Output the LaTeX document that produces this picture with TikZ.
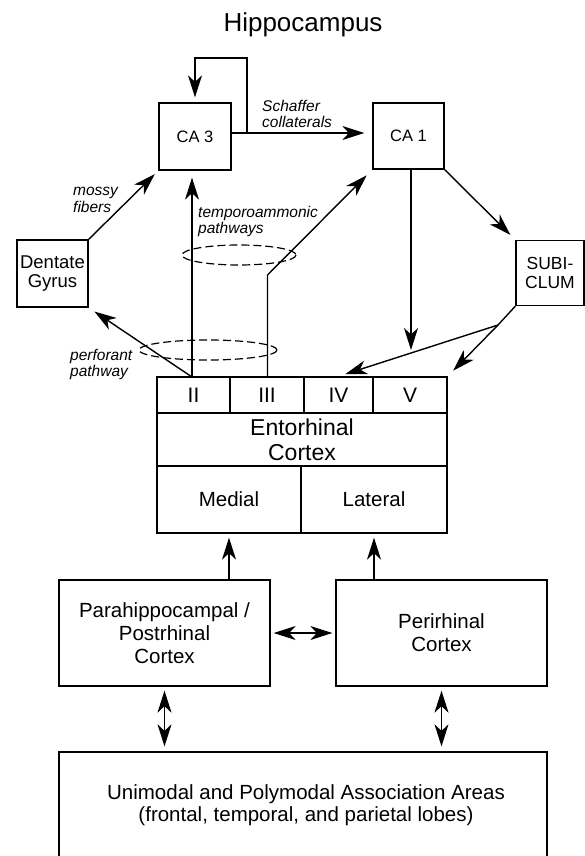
\documentclass[tikz,border=0pt]{standalone}
\usepackage{fontspec}
\setmainfont{Liberation Sans}
\usetikzlibrary{arrows.meta,calc}
\begin{document}
\begin{tikzpicture}[x=1pt,y=-1pt,
  box/.style={draw, line width=1.3pt, inner sep=0pt, align=center},
  tip/.tip={Stealth[length=22pt,width=14pt,inset=6.5pt]},
  arr/.style={line width=1.4pt, -tip},
  dbl/.style={line width=1.4pt, tip-tip},
  lab/.style={font=\fontsize{15.5}{16}\selectfont\itshape, anchor=base west, inner sep=0pt},
  dsh/.style={dash pattern=on 8pt off 4pt, line width=1.2pt},
  bf/.style={font=\fontsize{16.5}{19}\selectfont},
  mf/.style={font=\fontsize{20.5}{23}\selectfont}
]
\clip (0,0) rectangle (585,856);
\fill[white] (0,0) rectangle (585,856);

% title
\node[anchor=base, inner sep=0pt, font=\fontsize{26}{30}\selectfont] (title) at (303,32) {Hippocampus};

% hippocampal boxes
\node[box, bf, minimum width=72, minimum height=67] (ca3) at (195,136.5) {CA 3};
\node[box, bf, minimum width=71, minimum height=66] (ca1) at (408.5,136) {CA 1};
\node[box, font=\fontsize{18.5}{19.5}\selectfont, minimum width=71, minimum height=67] (dg) at (52.5,273.5) {Dentate\\Gyrus};
\node[box, font=\fontsize{17.5}{18.5}\selectfont, minimum width=68, minimum height=65] (sub) at (550,273) {SUBI-\\CLUM};

% entorhinal cortex
\node[box, font=\fontsize{21}{23}\selectfont, minimum width=73, minimum height=36] (l2) at (193.5,395) {II};
\node[box, font=\fontsize{21}{23}\selectfont, minimum width=74, minimum height=36] (l3) at (267,395) {III};
\node[box, font=\fontsize{21}{23}\selectfont, minimum width=69, minimum height=36] (l4) at (338.5,395) {IV};
\node[box, font=\fontsize{21}{23}\selectfont, minimum width=74, minimum height=36] (l5) at (410,395) {V};
\node[box, font=\fontsize{23}{25}\selectfont, minimum width=290, minimum height=53] (ecn) at (302,439.5) {Entorhinal\\Cortex};
\node[box, mf, minimum width=144, minimum height=67] (medial) at (229,499.5) {Medial};
\node[box, mf, minimum width=146, minimum height=67] (lateral) at (374,499.5) {Lateral};

% cortical boxes
\node[box, mf, minimum width=211, minimum height=106] (para) at (164.5,633) {Parahippocampal /\\Postrhinal\\Cortex};
\node[box, mf, minimum width=211, minimum height=106] (peri) at (441.5,633) {Perirhinal\\Cortex};
\node[box, minimum width=488, minimum height=114] (assoc) at (303,809) {};
\node[align=center, inner sep=0pt, font=\fontsize{20.5}{22.5}\selectfont] (assoctxt) at (306,805) {Unimodal and Polymodal Association Areas\\(frontal, temporal, and parietal lobes)};

% labels
\node[lab] (schaf1) at (262,112) {Schaffer};
\node[lab] (schaf2) at (262,128) {collaterals};
\node[lab] (mossy1) at (73,195) {mossy};
\node[lab] (mossy2) at (73,212) {fibers};
\node[lab] (temp1) at (198,217) {temporoammonic};
\node[lab] (temp2) at (198,233) {pathways};
\node[lab] (perf1) at (70,360) {perforant};
\node[lab] (perf2) at (70,376) {pathway};

% coordinates
\coordinate (sc) at (247,133);
\coordinate (lt) at (247,58);
\coordinate (l2t) at (192,377);
\coordinate (l3t) at (267.5,377);
\coordinate (tbend) at (267.5,275);
\coordinate (ca1d) at (411,350);
\coordinate (sbr) at (498,325);

% connectors
\draw[arr, shorten >=8pt] (ca3.east |- sc) -- (ca1.west |- sc);
\draw[arr, shorten >=5pt] (sc) -- (lt) -| (ca3.north);
\draw[arr, shorten >=5pt] (dg.north east) -- (ca3.south west);
\draw[arr, shorten >=7pt] (l2t) -- (l2t |- ca3.south);
\draw[arr, shorten >=7pt] (l2t) -- (dg.south east);
\draw[arr, shorten >=8pt] (l3t) -- (tbend) -- (ca1.south west);
\draw[arr] (ca1.south -| ca1d) -- (ca1d);
\draw[arr, shorten >=7pt] (ca1.south east) -- (sub.north west);
\draw[line width=1.4pt] (sub.south west) -- (sbr);
\draw[arr, shorten >=7pt] (sbr) -- (l4.north);
\draw[arr, shorten >=8pt] (sbr) -- (l5.north east);
\draw[arr, shorten >=4pt] (medial.south |- para.north) -- (medial.south);
\draw[arr, shorten >=4pt] (lateral.south |- peri.north) -- (lateral.south);
\draw[dbl, shorten <=3pt, shorten >=3pt] (para.east) -- (peri.west);
\draw[dbl, shorten <=4pt, shorten >=5pt] (para.south) -- (assoc.north -| para.south);
\draw[dbl, shorten <=4pt, shorten >=5pt] (peri.south) -- (assoc.north -| peri.south);

% dashed bundles
\draw[dsh] (239,255) ellipse [x radius=57, y radius=10];
\draw[dsh] (208,350) ellipse [x radius=69, y radius=10];
\end{tikzpicture}
\end{document}
